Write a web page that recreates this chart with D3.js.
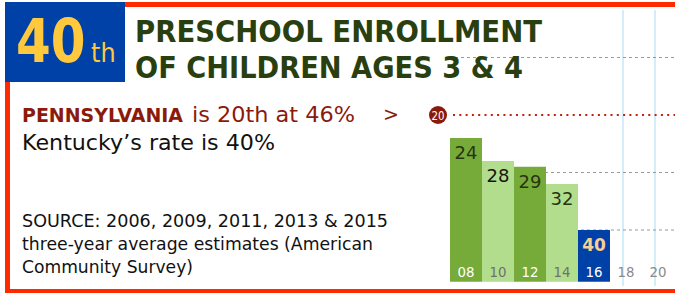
<!DOCTYPE html>
<html>
<head>
<meta charset="utf-8">
<script src="https://cdn.jsdelivr.net/npm/d3@7"></script>
<style>
  html, body { margin: 0; padding: 0; background: #fff; }
  svg { display: block; font-family: 'DejaVu Sans', Verdana, sans-serif; }
</style>
</head>
<body>
<div id="chart"></div>
<script>
// ranking data (lower rank = taller bar)
const years = ['08', '10', '12', '14', '16'];
const ranks = [24, 28, 29, 32, 40];
const axisYears = ['08', '10', '12', '14', '16', '18', '20'];
const gridRanks = [10, 30, 40];
const compareRank = 20;
const compareLabel = '20';

const width = 675;
const height = 293;
const red = '#ff2a00';

const svg = d3.select('#chart')
    .append('svg')
    .attr('width', width)
    .attr('height', height);

const x = d3.scaleBand()
    .domain(axisYears)
    .range([450, 674])
    .paddingInner(0);

const y = d3.scaleLinear()
    .domain([0, 50])
    .range([0, 287.5]);

const baseline = y(49);

// light blue year guides for future years
svg.selectAll('line.future')
    .data(axisYears.slice(years.length))
    .join('line')
    .attr('class', 'future')
    .attr('x1', d => x(d) + x.bandwidth() / 2 - 3)
    .attr('x2', d => x(d) + x.bandwidth() / 2 - 3)
    .attr('y1', 10)
    .attr('y2', 286)
    .attr('stroke', '#c3e8f7')
    .attr('stroke-width', 1.5);

// gray dotted gridlines
svg.selectAll('line.grid')
    .data(gridRanks)
    .join('line')
    .attr('class', 'grid')
    .attr('x1', 455)
    .attr('x2', width)
    .attr('y1', d => y(d))
    .attr('y2', d => y(d))
    .attr('stroke', '#9a9a9a')
    .attr('stroke-width', 1.2)
    .attr('stroke-dasharray', '3,3');

const data = years.map((yr, i) => ({ year: yr, rank: ranks[i], i }));
const fill = d => d.i === data.length - 1 ? '#0041a8' : (d.i % 2 === 0 ? '#76ab3a' : '#b2dd8d');

svg.selectAll('rect.bar')
    .data(data)
    .join('rect')
    .attr('class', 'bar')
    .attr('x', d => x(d.year))
    .attr('y', d => y(d.rank))
    .attr('width', x.bandwidth())
    .attr('height', d => baseline - y(d.rank))
    .attr('fill', fill);

svg.selectAll('text.value')
    .data(data)
    .join('text')
    .attr('class', 'value')
    .attr('x', d => x(d.year) + x.bandwidth() / 2)
    .attr('y', d => y(d.rank) + 21)
    .attr('text-anchor', 'middle')
    .attr('font-size', d => d.i === data.length - 1 ? '17px' : '18px')
    .attr('font-weight', d => d.i === data.length - 1 ? 'bold' : 'normal')
    .attr('fill', d => d.i === data.length - 1 ? '#f8cf94' : (d.i === 1 ? '#151515' : '#27350f'))
    .text(d => d.rank);

// year labels along the bottom
svg.selectAll('text.year')
    .data(axisYears)
    .join('text')
    .attr('class', 'year')
    .attr('x', d => x(d) + x.bandwidth() / 2)
    .attr('y', 277)
    .attr('text-anchor', 'middle')
    .attr('font-size', '14px')
    .attr('fill', (d, i) => {
        if (i >= years.length) return '#8a8a8a';
        if (i === years.length - 1 || i % 2 === 0) return '#ffffff';
        return '#707070';
    })
    .attr('textLength', 17)
    .attr('lengthAdjust', 'spacingAndGlyphs')
    .text(d => d);

// comparison state line
svg.append('line')
    .attr('x1', 453)
    .attr('x2', width)
    .attr('y1', y(compareRank))
    .attr('y2', y(compareRank))
    .attr('stroke', '#c4200c')
    .attr('stroke-width', 2)
    .attr('stroke-dasharray', '2,4.3');

svg.append('circle')
    .attr('cx', 438)
    .attr('cy', y(compareRank))
    .attr('r', 9)
    .attr('fill', '#8c1a0a');

svg.append('text')
    .attr('x', 438)
    .attr('y', y(compareRank) + 4.5)
    .attr('text-anchor', 'middle')
    .attr('font-size', '12px')
    .attr('fill', '#fff')
    .attr('textLength', 13)
    .attr('lengthAdjust', 'spacingAndGlyphs')
    .text(compareLabel);

// red frame
svg.append('rect').attr('x', 125).attr('y', 2).attr('width', width - 125).attr('height', 5).attr('fill', red);
svg.append('rect').attr('x', 5).attr('y', 80).attr('width', 5).attr('height', 213).attr('fill', red);
svg.append('rect').attr('x', 5).attr('y', 289).attr('width', width - 5).attr('height', 4).attr('fill', red);

// rank badge
svg.append('rect')
    .attr('x', 5).attr('y', 2)
    .attr('width', 120).attr('height', 80)
    .attr('fill', '#0041a8');

svg.append('text')
    .attr('transform', 'translate(16,62) scale(1,1.2)')
    .attr('font-size', '50px')
    .attr('font-weight', 'bold')
    .attr('fill', '#ffc83d')
    .text('40');

svg.append('text')
    .attr('transform', 'translate(91,62) scale(1,1.12)')
    .attr('font-size', '24px')
    .attr('fill', '#ffc83d')
    .text('th');

// title
const titleLines = [
    { t: 'PRESCHOOL ENROLLMENT', y: 42, w: 407 },
    { t: 'OF CHILDREN AGES 3 & 4', y: 78, w: 388 }
];
svg.selectAll('text.title')
    .data(titleLines)
    .join('text')
    .attr('class', 'title')
    .attr('x', 135)
    .attr('y', d => d.y)
    .attr('font-size', '30px')
    .attr('font-weight', 'bold')
    .attr('fill', '#2a3f10')
    .attr('textLength', d => d.w)
    .attr('lengthAdjust', 'spacingAndGlyphs')
    .text(d => d.t);

// comparison text
svg.append('text')
    .attr('x', 22).attr('y', 122)
    .attr('font-size', '19px')
    .attr('font-weight', 'bold')
    .attr('fill', '#8c1a0a')
    .attr('textLength', 161)
    .attr('lengthAdjust', 'spacingAndGlyphs')
    .text('PENNSYLVANIA');

svg.append('text')
    .attr('x', 192).attr('y', 122)
    .attr('font-size', '21px')
    .attr('fill', '#8c1a0a')
    .attr('textLength', 163)
    .attr('lengthAdjust', 'spacingAndGlyphs')
    .text('is 20th at 46%');

svg.append('text')
    .attr('x', 383).attr('y', 121)
    .attr('font-size', '19px')
    .attr('fill', '#8c1a0a')
    .text('>');

svg.append('text')
    .attr('x', 22).attr('y', 150)
    .attr('font-size', '21px')
    .attr('fill', '#111')
    .attr('textLength', 253)
    .attr('lengthAdjust', 'spacingAndGlyphs')
    .text('Kentucky\u2019s rate is 40%');

const sourceLines = [
    { t: 'SOURCE: 2006, 2009, 2011, 2013 & 2015', y: 227, w: 366 },
    { t: 'three-year average estimates (American', y: 250, w: 351 },
    { t: 'Community Survey)', y: 273, w: 171 }
];
svg.selectAll('text.source')
    .data(sourceLines)
    .join('text')
    .attr('class', 'source')
    .attr('x', 22)
    .attr('y', d => d.y)
    .attr('font-size', '17px')
    .attr('fill', '#111')
    .attr('textLength', d => d.w)
    .attr('lengthAdjust', 'spacingAndGlyphs')
    .text(d => d.t);
</script>
</body>
</html>
